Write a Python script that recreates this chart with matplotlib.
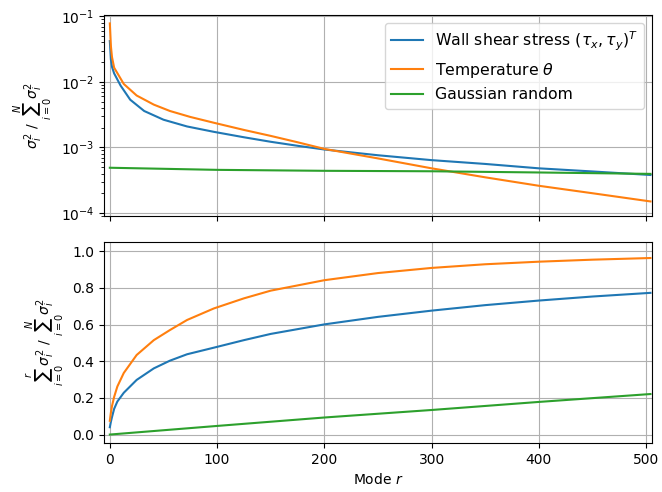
import numpy as np
import matplotlib
matplotlib.use("Agg")
import matplotlib.pyplot as plt

# --- top panel: normalized squared singular values
blue_x = [0, 1, 2, 4, 10, 19, 32, 50, 72, 97, 125, 150, 175, 200, 250, 300, 350, 400, 450, 504]
blue_y = [0.042, 0.022, 0.017, 0.0135, 8.8e-3, 5.35e-3, 3.6e-3, 2.65e-3, 2.09e-3,
          1.73e-3, 1.43e-3, 1.22e-3, 1.06e-3, 9.3e-4, 7.6e-4, 6.4e-4, 5.6e-4, 4.8e-4, 4.3e-4, 3.8e-4]
orange_x = [0, 1, 2, 4, 13, 25, 41, 56, 75, 97, 125, 150, 175, 200, 250, 300, 350, 400, 450, 504]
orange_y = [0.078, 0.035, 0.024, 0.0165, 9.3e-3, 6.2e-3, 4.5e-3, 3.6e-3, 2.92e-3,
            2.38e-3, 1.85e-3, 1.5e-3, 1.2e-3, 9.5e-4, 6.8e-4, 4.8e-4, 3.5e-4, 2.6e-4, 2.0e-4, 1.5e-4]
green_x = [0, 100, 200, 300, 400, 504]
green_y = [4.9e-4, 4.55e-4, 4.4e-4, 4.33e-4, 4.15e-4, 3.95e-4]

# --- bottom panel: cumulative energy
cblue_x = [0, 1, 2, 4, 7, 13, 25, 41, 56, 72, 97, 125, 150, 200, 250, 300, 350, 400, 450, 504]
cblue_y = [0.040, 0.070, 0.095, 0.140, 0.180, 0.228, 0.298, 0.361, 0.403, 0.438, 0.474,
           0.515, 0.549, 0.601, 0.642, 0.676, 0.706, 0.731, 0.753, 0.773]
corange_x = [0, 1, 2, 4, 7, 13, 25, 41, 56, 72, 97, 125, 150, 200, 250, 300, 350, 400, 450, 504]
corange_y = [0.075, 0.120, 0.155, 0.205, 0.262, 0.336, 0.434, 0.515, 0.570, 0.625, 0.688,
             0.743, 0.785, 0.842, 0.881, 0.909, 0.929, 0.943, 0.954, 0.963]
cgreen_x = [0, 100, 200, 300, 400, 504]
cgreen_y = [0.0, 0.047, 0.093, 0.134, 0.178, 0.221]

labels = [r'Wall shear stress $(\tau_x, \tau_y)^T$', r'Temperature $\theta$', 'Gaussian random']

fig, (ax1, ax2) = plt.subplots(2, 1, sharex=True, figsize=(6.62, 4.92), dpi=100)
fig.subplots_adjust(left=0.157, right=0.985, top=0.969, bottom=0.10, hspace=0.13)

ax1.plot(blue_x, blue_y, color='C0', label=labels[0])
ax1.plot(orange_x, orange_y, color='C1', label=labels[1])
ax1.plot(green_x, green_y, color='C2', label=labels[2])
ax1.set_yscale('log')
ax1.set_ylim(9e-5, 1.04e-1)
ax1.grid(True)
ax1.legend(loc='upper right', fontsize=11.3)
ax1.set_ylabel(r'$\sigma_i^2\ /\ \sum_{i=0}^{N}\sigma_i^2$')

ax2.plot(cblue_x, cblue_y, color='C0')
ax2.plot(corange_x, corange_y, color='C1')
ax2.plot(cgreen_x, cgreen_y, color='C2')
ax2.set_ylim(-0.045, 1.05)
ax2.set_xlim(-5.5, 505.5)
ax2.grid(True)
ax2.set_xlabel(r'Mode $r$')
ax2.set_ylabel(r'$\sum_{i=0}^{r}\sigma_i^2\ /\ \sum_{i=0}^{N}\sigma_i^2$')

fig.savefig('out.png', dpi=100)
